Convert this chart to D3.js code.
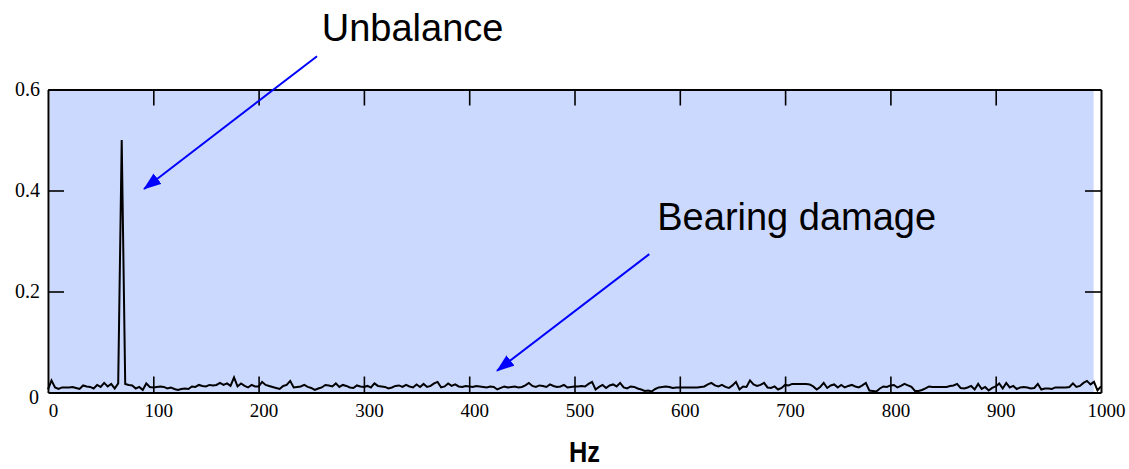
<!DOCTYPE html>
<html>
<head>
<meta charset="utf-8">
<script src="https://cdn.jsdelivr.net/npm/d3@7"></script>
<style>
    body { margin: 0; background: #fff; }
    .tick-label { font-family: "Liberation Serif", "Times New Roman", serif; fill: #000; }
</style>
</head>
<body>
<div class="Spectrum"></div>
<script>
// spectrum bins, one every binHz hertz starting at 0
const binHz = 1000 / 300;
const amplitude = [
    0.006, 0.024, 0.010, 0.007, 0.010, 0.010, 0.010, 0.011, 0.009, 0.007,
    0.014, 0.012, 0.011, 0.008, 0.015, 0.011, 0.019, 0.012, 0.017, 0.008,
    0.018, 0.500, 0.017, 0.015, 0.014, 0.008, 0.011, 0.005, 0.018, 0.011,
    0.010, 0.011, 0.012, 0.011, 0.008, 0.010, 0.007, 0.005, 0.007, 0.008,
    0.007, 0.012, 0.011, 0.015, 0.013, 0.012, 0.015, 0.014, 0.015, 0.019,
    0.015, 0.018, 0.013, 0.030, 0.012, 0.018, 0.013, 0.010, 0.015, 0.012,
    0.012, 0.021, 0.015, 0.013, 0.011, 0.009, 0.007, 0.013, 0.015, 0.023,
    0.010, 0.011, 0.012, 0.015, 0.011, 0.009, 0.005, 0.008, 0.010, 0.015,
    0.014, 0.012, 0.018, 0.011, 0.015, 0.013, 0.010, 0.009, 0.014, 0.012,
    0.011, 0.013, 0.010, 0.018, 0.013, 0.012, 0.011, 0.008, 0.010, 0.013,
    0.014, 0.011, 0.015, 0.012, 0.010, 0.016, 0.011, 0.017, 0.011, 0.013,
    0.018, 0.021, 0.010, 0.012, 0.018, 0.013, 0.016, 0.012, 0.011, 0.013,
    0.012, 0.011, 0.013, 0.012, 0.011, 0.010, 0.012, 0.011, 0.006, 0.009,
    0.012, 0.010, 0.011, 0.012, 0.010, 0.011, 0.014, 0.019, 0.013, 0.011,
    0.014, 0.013, 0.011, 0.016, 0.013, 0.011, 0.012, 0.015, 0.010, 0.011,
    0.012, 0.012, 0.013, 0.012, 0.017, 0.021, 0.006, 0.011, 0.015, 0.009,
    0.014, 0.016, 0.012, 0.019, 0.010, 0.008, 0.012, 0.011, 0.008, 0.006,
    0.003, 0.004, 0.002, 0.007, 0.010, 0.011, 0.012, 0.011, 0.009, 0.010,
    0.010, 0.010, 0.010, 0.010, 0.010, 0.010, 0.011, 0.012, 0.016, 0.019,
    0.014, 0.012, 0.015, 0.011, 0.009, 0.014, 0.021, 0.006, 0.012, 0.011,
    0.024, 0.016, 0.013, 0.015, 0.019, 0.010, 0.009, 0.012, 0.006, 0.009,
    0.015, 0.014, 0.017, 0.017, 0.017, 0.017, 0.017, 0.016, 0.012, 0.006,
    0.011, 0.019, 0.009, 0.014, 0.016, 0.010, 0.015, 0.010, 0.013, 0.015,
    0.012, 0.010, 0.014, 0.019, 0.004, 0.003, 0.002, 0.008, 0.012, 0.011,
    0.014, 0.015, 0.010, 0.013, 0.017, 0.014, 0.011, 0.003, 0.003, 0.005,
    0.008, 0.012, 0.011, 0.011, 0.011, 0.011, 0.011, 0.013, 0.014, 0.017,
    0.009, 0.008, 0.010, 0.013, 0.006, 0.017, 0.007, 0.011, 0.004, 0.009,
    0.012, 0.018, 0.008, 0.019, 0.010, 0.013, 0.007, 0.010, 0.011, 0.010,
    0.008, 0.009, 0.017, 0.006, 0.008, 0.008, 0.007, 0.010, 0.010, 0.010,
    0.010, 0.011, 0.018, 0.011, 0.013, 0.019, 0.023, 0.016, 0.021, 0.004,
    0.012
];

const xTicks = [0, 100, 200, 300, 400, 500, 600, 700, 800, 900, 1000];
const yTicks = [0, 0.2, 0.4, 0.6];

// annotations: text anchor and arrow from -> to, in data units
const annotations = [
    {label: "Unbalance", textHz: 260, textAmp: 0.697, fromHz: 255.5, fromAmp: 0.666, toHz: 91.2, toAmp: 0.403},
    {label: "Bearing damage", textHz: 578.6, textAmp: 0.322, fromHz: 571, fromAmp: 0.274, toHz: 426.4, toAmp: 0.043}
];

const svg = d3.select(".Spectrum").append("svg")
    .attr("width", 1129).attr("height", 469);

let x = d3.scaleLinear().domain([0, 1000]).range([48, 1101]);
let y = d3.scaleLinear().domain([0, 0.6]).range([392.5, 89.5]);

// plot background (stops a bit short of the right frame, as in the original)
svg.append("rect")
    .attr("x", x(0) + 2).attr("y", y(0.6))
    .attr("width", x(993) - x(0) - 2).attr("height", y(0) - y(0.6))
    .attr("fill", "#ccd9ff");

svg.append("defs").append("marker")
    .attr("id", "arrowhead")
    .attr("markerUnits", "userSpaceOnUse")
    .attr("viewBox", "0 -7 18 14")
    .attr("refX", 17).attr("refY", 0)
    .attr("markerWidth", 18).attr("markerHeight", 14)
    .attr("orient", "auto")
    .append("path")
    .attr("d", "M0,-6.5L18,0L0,6.5Z")
    .attr("fill", "#0000ff");

// spectrum line
let line = d3.line()
    .x((d, i) => x(i * binHz))
    .y(d => y(d));

svg.append("path")
    .datum(amplitude)
    .attr("fill", "none")
    .attr("stroke", "#000")
    .attr("stroke-width", 2)
    .attr("stroke-linejoin", "miter")
    .attr("d", line);

// frame with inward ticks on all four sides
const styleAxis = (g) => {
    g.select(".domain").attr("stroke", "#000").attr("stroke-width", 2);
    g.selectAll(".tick line").attr("stroke", "#000").attr("stroke-width", 1.6);
};

let gBottom = svg.append("g")
    .attr("transform", "translate(0," + y(0) + ")")
    .call(d3.axisBottom(x).tickValues(xTicks).tickSizeInner(-16).tickSizeOuter(0).tickFormat(d3.format("d")))
    .call(styleAxis);
gBottom.selectAll(".tick text")
    .attr("class", "tick-label")
    .attr("font-size", 19)
    .attr("x", 5).attr("y", 24).attr("dy", null);

svg.append("g")
    .attr("transform", "translate(0," + y(0.6) + ")")
    .call(d3.axisTop(x).tickValues(xTicks.slice(1, -1)).tickSizeInner(-16).tickSizeOuter(0).tickFormat(""))
    .call(styleAxis);

let gLeft = svg.append("g")
    .attr("transform", "translate(" + x(0) + ",0)")
    .call(d3.axisLeft(y).tickValues(yTicks).tickSizeInner(-16).tickSizeOuter(0).tickPadding(8).tickFormat(d => d === 0 ? "0" : d3.format(".1f")(d)))
    .call(styleAxis);
gLeft.selectAll(".tick text")
    .attr("class", "tick-label")
    .attr("font-size", 20)
    .attr("dy", d => d === 0 ? "0.55em" : "0.32em")
    .attr("x", d => d === 0 ? -9 : -8);

svg.append("g")
    .attr("transform", "translate(" + x(1000) + ",0)")
    .call(d3.axisRight(y).tickValues(yTicks.slice(1, -1)).tickSizeInner(-16).tickSizeOuter(0).tickFormat(""))
    .call(styleAxis);

// no ticks drawn on the frame corners
svg.selectAll(".tick line").filter(function (d) {
    return d === 0 || d === 1000;
}).remove();

// annotations
annotations.forEach(a => {
    svg.append("line")
        .attr("x1", x(a.fromHz)).attr("y1", y(a.fromAmp))
        .attr("x2", x(a.toHz)).attr("y2", y(a.toAmp))
        .attr("stroke", "#0000ff").attr("stroke-width", 2)
        .attr("marker-end", "url(#arrowhead)");
    svg.append("text")
        .attr("x", x(a.textHz)).attr("y", y(a.textAmp))
        .attr("font-family", "'Liberation Sans', Arial, sans-serif")
        .attr("font-size", 38)
        .attr("fill", "#000")
        .text(a.label);
});

svg.append("text")
    .attr("x", 569).attr("y", 462)
    .attr("font-family", "'Liberation Sans Narrow', 'Arial Narrow', 'Liberation Sans', sans-serif")
    .attr("font-weight", "bold")
    .attr("font-size", 30)
    .attr("textLength", 31)
    .attr("lengthAdjust", "spacingAndGlyphs")
    .text("Hz");
</script>
</body>
</html>
